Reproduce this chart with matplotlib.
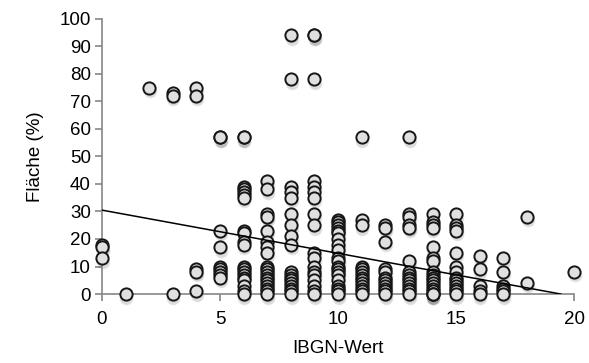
import numpy as np
import matplotlib
matplotlib.use("Agg")
import matplotlib.pyplot as plt
import matplotlib.transforms as mtransforms

plt.rcParams['font.family'] = ['Liberation Sans', 'DejaVu Sans']

# IBGN value -> list of area (%) values
area_by_ibgn = {
    0: [18, 17, 13],
    1: [0],
    2: [75],
    3: [73, 72, 0],
    4: [75, 72, 9, 8, 1],
    5: [57, 57, 23, 17, 10, 9, 8, 7, 6],
    6: [57, 57, 39, 38, 37, 36, 35, 23, 22, 19, 18, 10, 9, 8, 7, 6, 5, 3, 1, 0],
    7: [41, 38, 29, 28, 23, 19, 17, 15, 10, 9, 8, 7, 6, 5, 4, 3, 2, 1, 0],
    8: [94, 78, 39, 37, 35, 29, 25, 21, 18, 8, 7, 6, 5, 4, 3, 2, 1, 0],
    9: [94, 94, 78, 41, 39, 37, 35, 29, 25, 15, 13, 10, 8, 7, 5, 3, 1, 0],
    10: [27, 26, 25, 24, 23, 22, 20, 18, 16, 13, 12, 10, 9, 8, 7, 5, 3, 2, 1, 0],
    11: [57, 27, 25, 10, 9, 8, 7, 6, 5, 4, 3, 2, 1, 0],
    12: [25, 24, 19, 9, 8, 6, 5, 4, 3, 2, 1, 0],
    13: [57, 29, 28, 25, 24, 12, 8, 7, 6, 5, 4, 3, 2, 1, 0],
    14: [29, 26, 25, 24, 17, 13, 12, 8, 7, 6, 5, 4, 3, 2, 1, 0, 0, 0],
    15: [29, 25, 24, 23, 15, 10, 8, 6, 5, 4, 3, 2, 1, 0],
    16: [14, 9, 3, 1, 0],
    17: [13, 8, 3, 2, 1, 0],
    18: [28, 4],
    20: [8],
}

# linear trend line as shown (intercept, slope)
trend_intercept = 30.5
trend_slope = -1.57

x_ticks = [0, 5, 10, 15, 20]
y_ticks = list(range(0, 101, 10))

ibgn = np.array([k for k, v in area_by_ibgn.items() for _ in v], dtype=float)
area = np.array([a for v in area_by_ibgn.values() for a in v], dtype=float)

fig = plt.figure(figsize=(5.89, 3.63), dpi=100)
ax = fig.add_axes([0.173, 0.19, 0.802, 0.758])

# soft drop shadow under the markers
shadow = mtransforms.offset_copy(ax.transData, fig=fig, x=0.5, y=-2.5, units='points')
ax.plot(ibgn, area, 'o', ms=10, mfc='#000000', mec='none', alpha=0.07,
        transform=shadow, clip_on=False, zorder=2)
ax.plot(ibgn, area, 'o', ms=9, mfc='#000000', mec='none', alpha=0.07,
        transform=shadow, clip_on=False, zorder=2)

ax.plot(ibgn, area, 'o', ms=8.8, mfc='#e0e0e0', mec='#161616', mew=1.4,
        clip_on=False, zorder=3)

x_end = -trend_intercept / trend_slope
tx = np.array([0, x_end])
ax.plot(tx, trend_intercept + trend_slope * tx, color='black', lw=1.1, zorder=4)

ax.set_xlim(0, 20)
ax.set_ylim(0, 100)
ax.set_xticks(x_ticks)
ax.set_yticks(y_ticks)
for side in ['top', 'right']:
    ax.spines[side].set_visible(False)
for side in ['left', 'bottom']:
    ax.spines[side].set_color('#868686')
    ax.spines[side].set_linewidth(1.2)
ax.tick_params(axis='both', colors='#868686', length=5, width=1.2,
               labelsize=13.5, labelcolor='black', direction='out')
ax.tick_params(axis='x', pad=7)
ax.tick_params(axis='y', pad=3)
ax.set_xlabel('IBGN-Wert', fontsize=13.5, labelpad=9)
ax.set_ylabel('Fläche (%)', fontsize=13.5, labelpad=11)

fig.savefig('out.png', dpi=100)
